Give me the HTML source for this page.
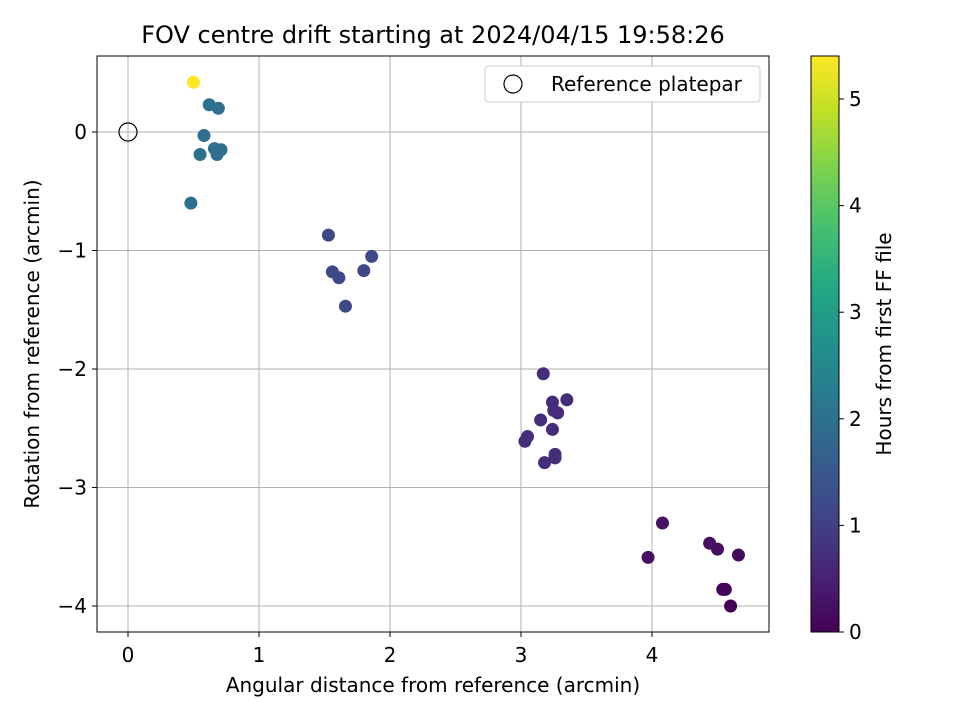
<!DOCTYPE html>
<html><head><meta charset="utf-8"><style>
body{margin:0;background:#fff;font-family:"Liberation Sans","DejaVu Sans",sans-serif;}
svg text{font-family:"DejaVu Sans","Liberation Sans",sans-serif;fill:#000;}
</style></head><body>
<svg id="chart" width="960" height="720" viewBox="0 0 960 720" xmlns="http://www.w3.org/2000/svg">
<defs><linearGradient id="vir" x1="0" y1="1" x2="0" y2="0">
<stop offset="0" stop-color="#440154"/><stop offset="0.1" stop-color="#482475"/><stop offset="0.2" stop-color="#414487"/><stop offset="0.3" stop-color="#355f8d"/><stop offset="0.4" stop-color="#2a788e"/><stop offset="0.5" stop-color="#21918c"/><stop offset="0.6" stop-color="#22a884"/><stop offset="0.7" stop-color="#44bf70"/><stop offset="0.8" stop-color="#7ad151"/><stop offset="0.9" stop-color="#bddf26"/><stop offset="1" stop-color="#fde725"/>
</linearGradient></defs>
<text x="433" y="43" style="font-size:24px" text-anchor="middle">FOV centre drift starting at 2024/04/15 19:58:26</text>
<g id="grid"></g><g id="ticks"></g><g id="points"></g>
<rect x="97" y="56" width="672" height="576" fill="none" stroke="#000" stroke-width="1"/>
<text x="433" y="692" style="font-size:20px" text-anchor="middle">Angular distance from reference (arcmin)</text>
<text transform="translate(39,344) rotate(-90)" style="font-size:20px" text-anchor="middle">Rotation from reference (arcmin)</text>
<g>
<rect x="485" y="66" width="275" height="36" rx="3" fill="#fff" stroke="#ccc"/>
<circle cx="513" cy="84" r="9" fill="none" stroke="#000" stroke-width="1.2"/>
<text x="551" y="91" style="font-size:20px">Reference platepar</text>
</g>
<rect x="811" y="56" width="28" height="576" fill="url(#vir)" stroke="#000" stroke-width="1"/>
<g id="cbticks"></g>
<text transform="translate(891,344) rotate(-90)" style="font-size:20px" text-anchor="middle">Hours from first FF file</text>
</svg>
<script>
const xTicks=[0,1,2,3,4];
const yTicks=[0,-1,-2,-3,-4];
const cTicks=[0,1,2,3,4,5];
const xs=[3.97,4.08,4.44,4.50,4.66,4.54,4.56,4.60,
3.17,3.35,3.24,3.25,3.28,3.15,3.24,3.05,3.03,3.26,3.26,3.18,
1.53,1.86,1.56,1.61,1.80,1.66,
0.62,0.69,0.58,0.55,0.66,0.71,0.68,0.48,0.50];
const ys=[-3.59,-3.30,-3.47,-3.52,-3.57,-3.86,-3.86,-4.00,
-2.04,-2.26,-2.28,-2.35,-2.37,-2.43,-2.51,-2.57,-2.61,-2.72,-2.75,-2.79,
-0.87,-1.05,-1.18,-1.23,-1.17,-1.47,
0.23,0.20,-0.03,-0.19,-0.14,-0.15,-0.19,-0.60,0.42];
const hours=[0.25,0.3,0.2,0.2,0.15,0.05,0.05,0.0,
0.7,0.7,0.7,0.7,0.7,0.7,0.7,0.7,0.7,0.7,0.7,0.7,
1.2,1.2,1.2,1.2,1.2,1.2,
1.95,1.95,1.95,1.95,1.95,1.95,1.95,1.95,5.4];
const NS="http://www.w3.org/2000/svg";
const X=v=>128+v*131, Y=v=>132-v*118.5, C=v=>632-v*106.6, HMAX=5.4;
const vir=["#440154","#482475","#414487","#355f8d","#2a788e","#21918c","#22a884","#44bf70","#7ad151","#bddf26","#fde725"];
function col(h){let t=Math.max(0,Math.min(1,h/HMAX))*10;let i=Math.min(9,Math.floor(t)),f=t-i;
const a=vir[i],b=vir[i+1];let o="rgb(";for(let k=0;k<3;k++){const p=parseInt(a.substr(1+2*k,2),16),q=parseInt(b.substr(1+2*k,2),16);o+=Math.round(p+(q-p)*f)+(k<2?",":")");}return o;}
function mk(tag,at,par){const e=document.createElementNS(NS,tag);for(const k in at)e.setAttribute(k,at[k]);document.getElementById(par).appendChild(e);return e;}
const lab=v=>v<0?"\u2212"+(-v):""+v;
xTicks.forEach(v=>{const g=mk("line",{x1:X(v),x2:X(v),y1:56,y2:632,stroke:"#b0b0b0","stroke-width":1},"grid");


mk("line",{x1:X(v),x2:X(v),y1:632,y2:637,stroke:"#000"},"ticks");
const t=mk("text",{x:X(v),y:662,style:"font-size:20px","text-anchor":"middle"},"ticks");t.textContent=lab(v);

});
yTicks.forEach(v=>{const g=mk("line",{x1:97,x2:769,y1:Y(v),y2:Y(v),stroke:"#b0b0b0","stroke-width":1},"grid");


mk("line",{x1:92,x2:97,y1:Y(v),y2:Y(v),stroke:"#000"},"ticks");
const t=mk("text",{x:87,y:Y(v)+7,style:"font-size:20px","text-anchor":"end"},"ticks");t.textContent=lab(v);

});
cTicks.forEach(v=>{mk("line",{x1:839,x2:844,y1:C(v),y2:C(v),stroke:"#000"},"cbticks");
const t=mk("text",{x:849,y:C(v)+7,style:"font-size:20px"},"cbticks");t.textContent=v;

});
xs.forEach((x,i)=>{const c=mk("circle",{cx:X(x),cy:Y(ys[i]),r:6.5,fill:col(hours[i])},"points");

});
const r=mk("circle",{cx:X(0),cy:Y(0),r:9,fill:"none",stroke:"#000","stroke-width":1.2},"points");


</script>
</body></html>
